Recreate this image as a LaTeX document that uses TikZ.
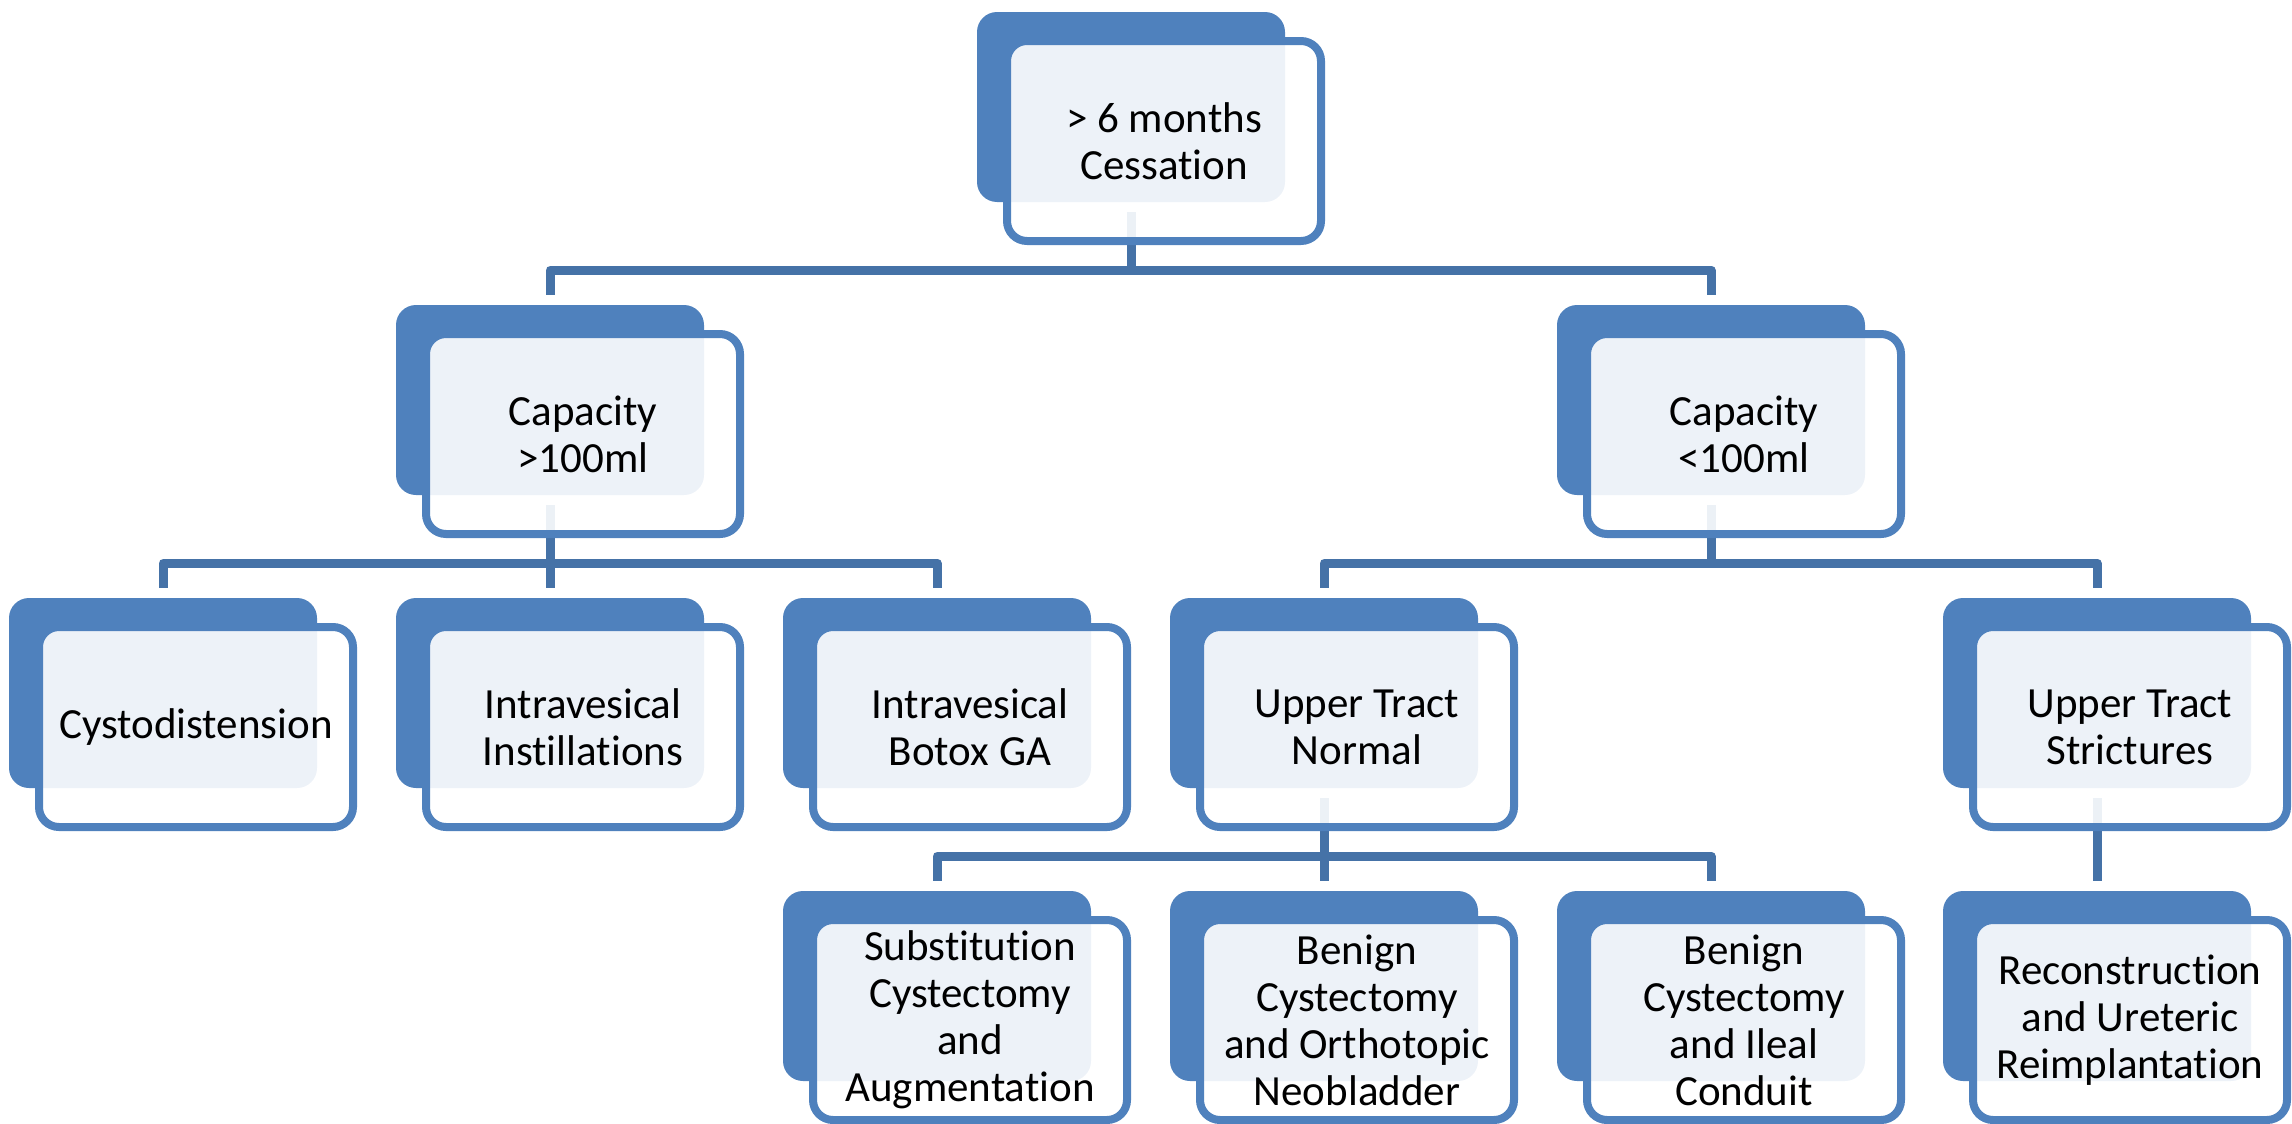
\documentclass[tikz,border=0pt]{standalone}
\usepackage{fontspec}
\setmainfont{Carlito}[Ligatures={NoCommon}]
\definecolor{accblue}{RGB}{79,129,189}
\definecolor{connblue}{RGB}{69,114,167}
\tikzset{
  backbox/.style={fill=accblue, draw=none, rounded corners=10pt,
    minimum width=154pt, minimum height=95pt, inner sep=0pt, outer sep=0pt},
  frontbox/.style={draw=accblue, line width=4pt, fill=white, fill opacity=0.9,
    text opacity=1, rounded corners=10pt, minimum width=157pt, minimum height=100pt,
    inner sep=0pt, outer sep=0pt, align=center, text=black,
    font=\fontsize{21.5pt}{23.5pt}\selectfont},
  link/.style={draw=connblue, line width=4.5pt, line join=round},
}
\begin{document}
\begin{tikzpicture}[x=0.5pt,y=-0.5pt]
\useasboundingbox (0,0) rectangle (2292,1124);
% level coordinates for the horizontal connector runs
\coordinate (h1) at (0,270);
\coordinate (h2) at (0,563);
\coordinate (h3) at (0,856);
% back boxes
\node[backbox] (btop)   at (1131,107) {};
\node[backbox] (bcap1)  at (550,400) {};
\node[backbox] (bcap2)  at (1711,400) {};
\node[backbox] (bcyst)  at (163,693) {};
\node[backbox] (binst)  at (550,693) {};
\node[backbox] (bbotox) at (937,693) {};
\node[backbox] (butn)   at (1324,693) {};
\node[backbox] (buts)   at (2097,693) {};
\node[backbox] (bsubst) at (937,986) {};
\node[backbox] (borth)  at (1324,986) {};
\node[backbox] (bileal) at (1711,986) {};
\node[backbox] (brecon) at (2097,986) {};
% connectors
\draw[link] ([yshift=-5pt]btop.south) -- (btop.south |- h1) -| ([yshift=5pt]bcap1.north);
\draw[link] ([yshift=-5pt]btop.south) -- (btop.south |- h1) -| ([yshift=5pt]bcap2.north);
\draw[link] ([yshift=-5pt]bcap1.south) -- (bcap1.south |- h2) -| ([yshift=5pt]bcyst.north);
\draw[link] ([yshift=-5pt]bcap1.south) -- (bcap1.south |- h2) -| ([yshift=5pt]binst.north);
\draw[link] ([yshift=-5pt]bcap1.south) -- (bcap1.south |- h2) -| ([yshift=5pt]bbotox.north);
\draw[link] ([yshift=-5pt]bcap2.south) -- (bcap2.south |- h2) -| ([yshift=5pt]butn.north);
\draw[link] ([yshift=-5pt]bcap2.south) -- (bcap2.south |- h2) -| ([yshift=5pt]buts.north);
\draw[link] ([yshift=-5pt]butn.south) -- (butn.south |- h3) -| ([yshift=5pt]bsubst.north);
\draw[link] ([yshift=-5pt]butn.south) -- (butn.south |- h3) -| ([yshift=5pt]borth.north);
\draw[link] ([yshift=-5pt]butn.south) -- (butn.south |- h3) -| ([yshift=5pt]bileal.north);
\draw[link] ([yshift=-5pt]buts.south) -- ([yshift=5pt]brecon.north);
% front boxes with text
\node[frontbox] (ftop)   at (1164,141) {> 6 months\\Cessation};
\node[frontbox] (fcap1)  at (583,434) {Capacity\\>100ml};
\node[frontbox] (fcap2)  at (1744,434) {Capacity\\<100ml};
\node[frontbox] (fcyst)  at (196,727) {Cystodistension};
\node[frontbox] (finst)  at (583,727) {Intravesical\\Instillations};
\node[frontbox] (fbotox) at (970,727) {Intravesical\\Botox GA};
\node[frontbox] (futn)   at (1357,727) {Upper Tract\\Normal};
\node[frontbox] (futs)   at (2130,727) {Upper Tract\\Strictures};
\node[frontbox] (fsubst) at (970,1020) {Substitution\\Cystectomy\\and\\Augmentation};
\node[frontbox] (forth)  at (1357,1020) {Benign\\Cystectomy\\and Orthotopic\\Neobladder};
\node[frontbox] (fileal) at (1744,1020) {Benign\\Cystectomy\\and Ileal\\Conduit};
\node[frontbox] (frecon) at (2130,1020) {Reconstruction\\and Ureteric\\Reimplantation};
\end{tikzpicture}
\end{document}
